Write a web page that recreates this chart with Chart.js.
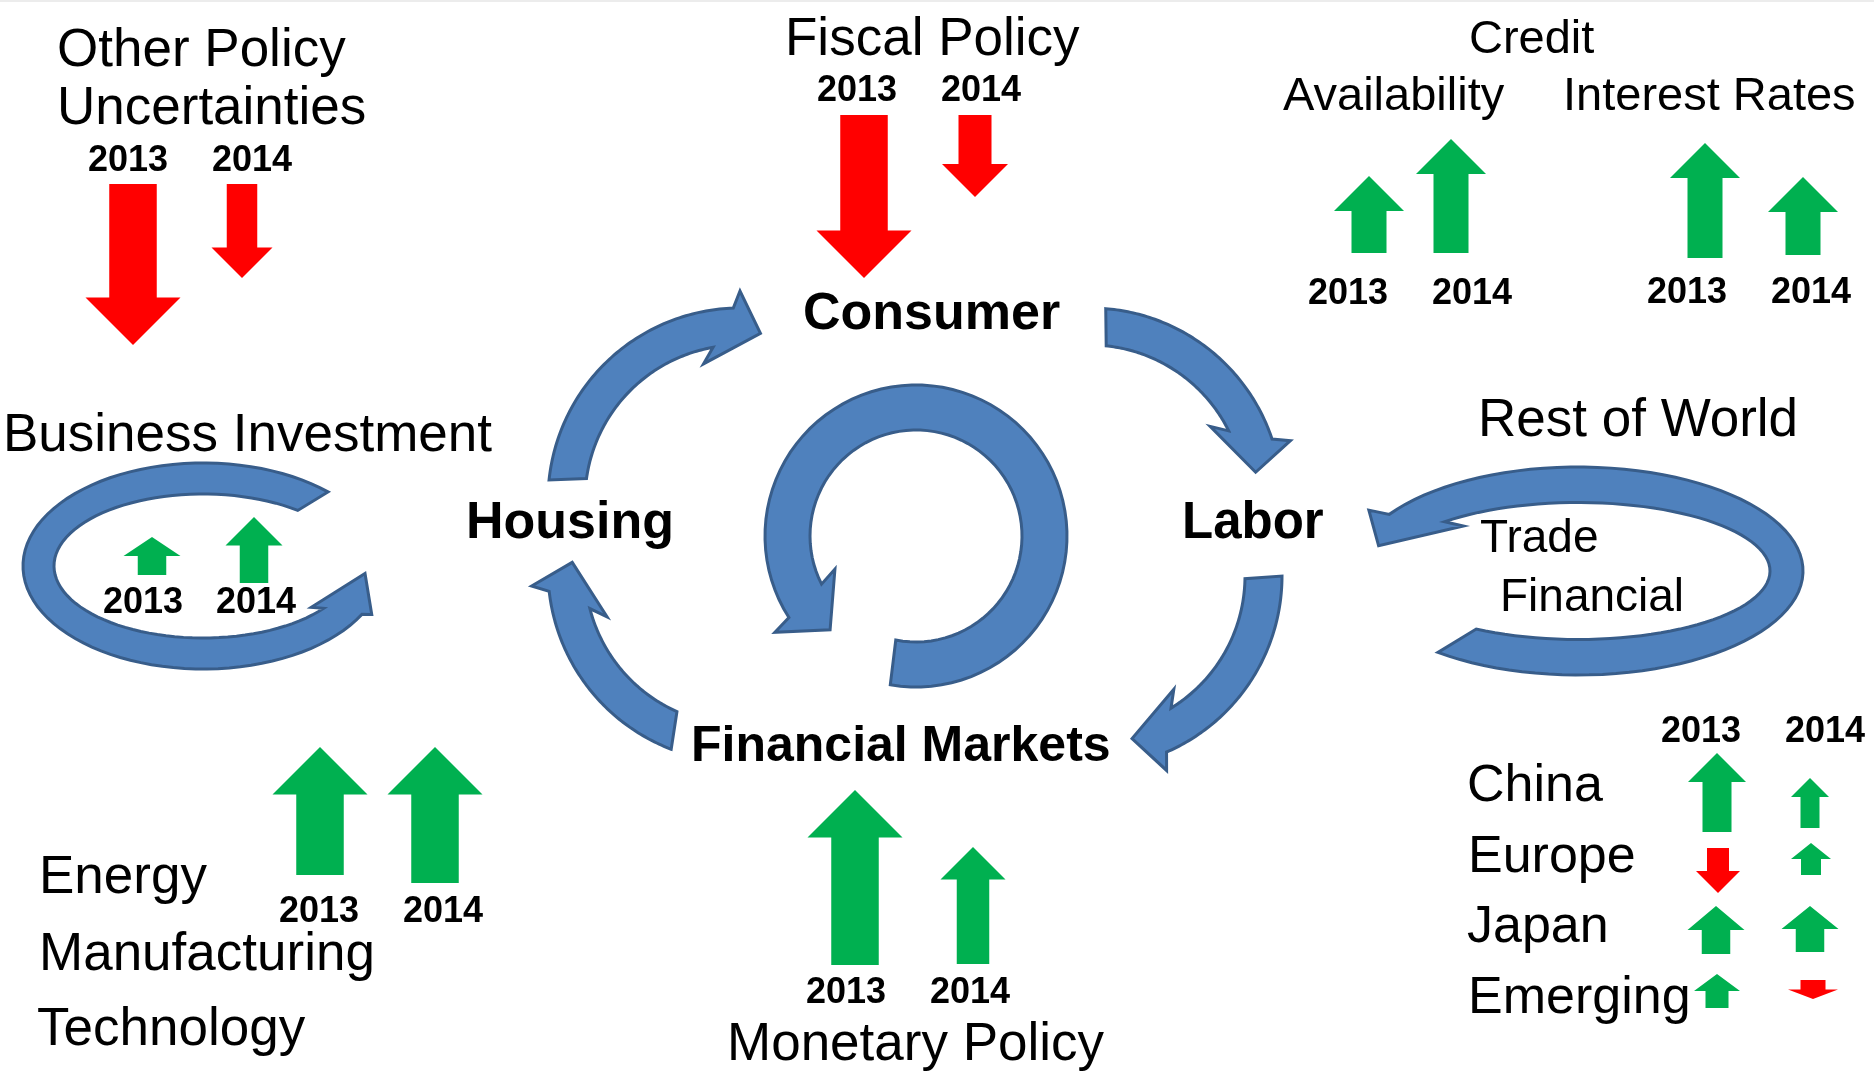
<!DOCTYPE html>
<html lang="en">
<head>
    <meta charset="UTF-8">
    <title>Economic Outlook Diagram</title>
    <script src="https://cdn.jsdelivr.net/npm/chart.js"></script>
    <style>
        html, body { margin: 0; padding: 0; background: #fff; overflow: hidden; }
        canvas { display: block; }
    </style>
</head>
<body>
    <canvas id="diagram" width="1874" height="1074"></canvas>

    <script>
        // Data: impulse of each factor in 2013 and 2014 (positive = up / green, negative = down / red)
        const years = ['2013', '2014'];
        const factors = ['Other Policy Uncertainties', 'Fiscal Policy', 'Credit Availability', 'Interest Rates',
            'Business Investment', 'Energy Manufacturing Technology', 'Monetary Policy',
            'China', 'Europe', 'Japan', 'Emerging'];
        const impulse2013 = [-16.1, -16.3, 7.7, 11.5, 3.8, 12.8, 17.5, 7.9, -4.5, 4.8, 3.4];
        const impulse2014 = [-9.4, -8.2, 11.4, 7.8, 6.6, 13.6, 11.7, 5.0, 3.2, 4.6, -1.9];

        // Layout (diagram units = pixels of the slide)
        const UNIT = 10;
        const arrowX = [[133, 242], [864, 975], [1369, 1451], [1705, 1803], [152, 254], [320, 435],
            [855, 973], [1717, 1810], [1718, 1811], [1716, 1810], [1717, 1813]];
        const arrowBase = [[184, 184], [115, 115], [253, 253], [258, 255], [575, 583], [875, 883],
            [965, 964], [832, 828], [848, 875], [954, 952], [1008, 980]];
        const arrowWidth = [[95, 61], [95, 66], [70, 70], [70, 70], [57, 57], [95, 95],
            [95, 65], [58, 38], [44, 40], [57, 57], [46, 50]];
        // year labels: [x center, baseline] for 2013 / 2014
        const yearPos = [[[128, 171], [252, 171]], [[857, 101], [981, 101]], [[1348, 304], [1472, 304]],
            [[1687, 303], [1811, 303]], [[143, 613], [256, 613]], [[319, 922], [443, 922]],
            [[846, 1003], [970, 1003]], [[1701, 742], [1825, 742]]];

        const GREEN = '#00B050', RED = '#FF0000', BLUE = '#4F81BD', BLUE_EDGE = '#385D8A';
        const FONT = '"Liberation Sans", Arial, sans-serif';

        // text: [text, x, baseline, size, bold]
        const texts = [
            ['Other Policy', 57, 66, 53], ['Uncertainties', 57, 124, 53],
            ['Fiscal Policy', 785, 55, 53],
            ['Credit', 1469, 53, 47], ['Availability', 1283, 110, 47], ['Interest Rates', 1563, 110, 47],
            ['Business Investment', 3, 451, 53],
            ['Rest of World', 1478, 436, 53], ['Trade', 1480, 552, 46], ['Financial', 1500, 611, 46],
            ['Energy', 39, 893, 53], ['Manufacturing', 39, 970, 53], ['Technology', 37, 1045, 53],
            ['Monetary Policy', 727, 1060, 53],
            ['China', 1467, 801, 52], ['Europe', 1468, 872, 52], ['Japan', 1467, 942, 52], ['Emerging', 1468, 1013, 52],
            ['Consumer', 803, 329, 52, true], ['Housing', 466, 538, 52, true],
            ['Labor', 1182, 538, 51, true], ['Financial Markets', 691, 761, 50, true]
        ];

        // blue curved arrows: angles in degrees, f = 0 inner edge, 1 outer edge
        function ring(cx, cy, rI, rO) { return { cx, cy, rxI: rI, ryI: rI, rxO: rO, ryO: rO }; }
        function outerArrow(cx, cy, tail, T) {
            return Object.assign(ring(cx, cy, 155, 192), {
                tail, neck: [T - 9, T - 17], barbO: [T - 7, 1.46], barbI: [T - 22, -0.38], tip: [T, 0.35]
            });
        }
        const loops = [
            outerArrow(740, 500, [-174, -172], -83),
            outerArrow(1090, 500, [-85.3, -84], -9.5),
            outerArrow(1090, 576, [0, 1], 75.5),
            outerArrow(740, 570, [111, 114], 182.6),
            Object.assign(ring(916, 536, 106, 151), {
                tail: [99.8, 101], neck: [-212.7, -207], barbO: [-214.3, 1.44], barbI: [-202.2, -0.41], tip: [-227.5, 0.47]
            }),
            { cx: 203, cy: 566, rxI: 149, ryI: 72, rxO: 180, ryO: 103,
              tail: [-46, -50.5], neck: [-332, -324], barbO: [-334, 1.25], barbI: [-320, -0.25], tip: [-355, 0.44] },
            { cx: 1578, cy: 571, rxI: 192, ryI: 68.5, rxO: 225, ryO: 104,
              tail: [128.5, 122], neck: [-147, -134], barbO: [-150, 1.5], barbI: [-129, -0.3], tip: [-163, 0.5] }
        ];

        function bandPoint(s, th, f) {
            const a = th * Math.PI / 180;
            const rx = s.rxI + f * (s.rxO - s.rxI), ry = s.ryI + f * (s.ryO - s.ryI);
            return [s.cx + rx * Math.cos(a), s.cy + ry * Math.sin(a)];
        }

        function drawLoop(ctx, s, px, py) {
            const pts = [];
            const steps = 80;
            for (let k = 0; k <= steps; k++) {
                pts.push(bandPoint(s, s.tail[0] + (s.neck[0] - s.tail[0]) * k / steps, 1));
            }
            pts.push(bandPoint(s, s.barbO[0], s.barbO[1]));
            pts.push(bandPoint(s, s.tip[0], s.tip[1]));
            pts.push(bandPoint(s, s.barbI[0], s.barbI[1]));
            for (let k = 0; k <= steps; k++) {
                pts.push(bandPoint(s, s.neck[1] + (s.tail[1] - s.neck[1]) * k / steps, 0));
            }
            ctx.beginPath();
            pts.forEach((p, i) => i ? ctx.lineTo(px(p[0]), py(p[1])) : ctx.moveTo(px(p[0]), py(p[1])));
            ctx.closePath();
            ctx.fillStyle = BLUE;
            ctx.fill();
            ctx.lineWidth = 3;
            ctx.lineJoin = 'miter';
            ctx.strokeStyle = BLUE_EDGE;
            ctx.stroke();
        }

        // block arrow like PowerPoint: shaft half the width, head length = half of min(width, length)
        function blockArrow(ctx, cx, y0, y1, w) {
            const len = Math.abs(y1 - y0), dir = Math.sign(y1 - y0);
            const head = 0.5 * Math.min(w, len);
            const neck = y1 - dir * head;
            ctx.beginPath();
            ctx.moveTo(cx - w / 4, y0);
            ctx.lineTo(cx - w / 4, neck);
            ctx.lineTo(cx - w / 2, neck);
            ctx.lineTo(cx, y1);
            ctx.lineTo(cx + w / 2, neck);
            ctx.lineTo(cx + w / 4, neck);
            ctx.lineTo(cx + w / 4, y0);
            ctx.closePath();
            ctx.fill();
        }

        const diagramPlugin = {
            id: 'diagram',
            afterDraw(chart) {
                const { ctx, scales: { x, y } } = chart;
                const px = v => x.getPixelForValue(v), py = v => y.getPixelForValue(v);
                ctx.save();

                ctx.fillStyle = '#ececec';
                ctx.fillRect(0, 0, chart.width, 2);

                loops.forEach(s => drawLoop(ctx, s, px, py));

                [impulse2013, impulse2014].forEach((vals, j) => {
                    vals.forEach((v, i) => {
                        const base = arrowBase[i][j];
                        const w = px(arrowWidth[i][j]) - px(0);
                        ctx.fillStyle = v >= 0 ? GREEN : RED;
                        blockArrow(ctx, px(arrowX[i][j]), py(base), py(base - v * UNIT), w);
                    });
                });

                ctx.fillStyle = '#000';
                ctx.textBaseline = 'alphabetic';
                ctx.textAlign = 'left';
                texts.forEach(([t, tx, ty, size, bold]) => {
                    ctx.font = (bold ? 'bold ' : '') + size + 'px ' + FONT;
                    ctx.fillText(t, px(tx), py(ty));
                });

                ctx.textAlign = 'center';
                ctx.font = 'bold 36px ' + FONT;
                yearPos.forEach(pair => pair.forEach((p, j) => ctx.fillText(years[j], px(p[0]), py(p[1]))));

                ctx.restore();
            }
        };

        new Chart(document.getElementById('diagram'), {
            type: 'scatter',
            data: {
                datasets: [impulse2013, impulse2014].map((vals, j) => ({
                    label: years[j],
                    data: vals.map((v, i) => ({ x: arrowX[i][j], y: arrowBase[i][j] - v * UNIT })),
                    pointRadius: 0,
                    showLine: false
                }))
            },
            options: {
                responsive: false,
                devicePixelRatio: 1,
                animation: false,
                layout: { padding: 0 },
                plugins: { legend: { display: false }, tooltip: { enabled: false } },
                scales: {
                    x: { type: 'linear', min: 0, max: 1874, display: false },
                    y: { type: 'linear', min: 0, max: 1074, reverse: true, display: false }
                }
            },
            plugins: [diagramPlugin]
        });
    </script>
</body>
</html>
